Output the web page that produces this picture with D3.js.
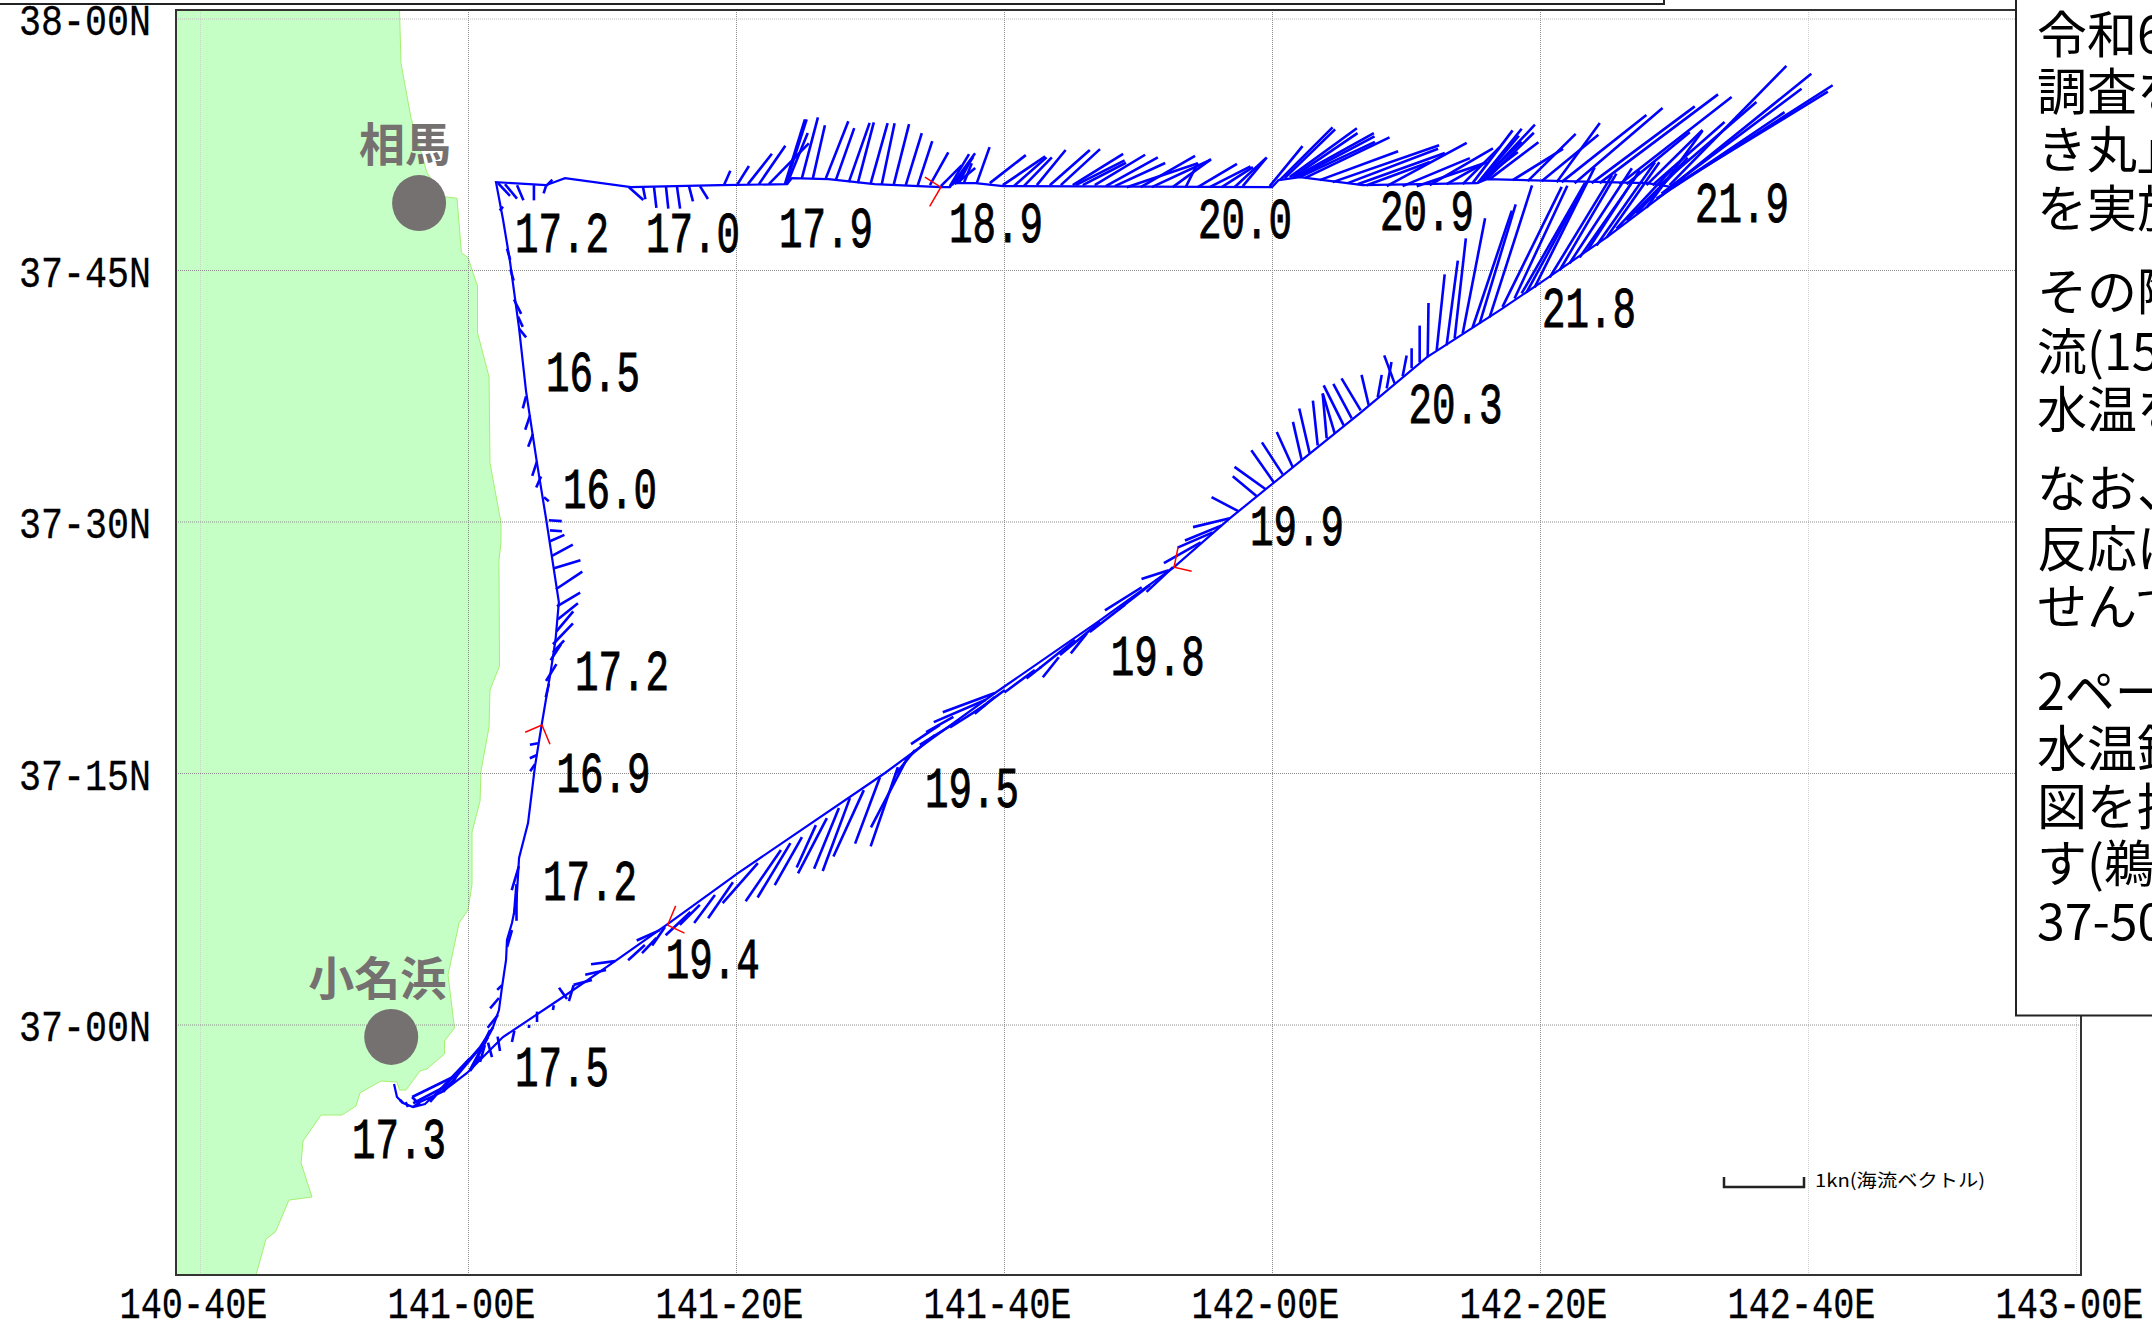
<!DOCTYPE html>
<html>
<head>
<meta charset="utf-8">
<script src="https://cdn.jsdelivr.net/npm/d3@7"></script>
<style>
    html, body { margin: 0; padding: 0; background: #fff; overflow: hidden; }
    svg { display: block; }
    .num { font-family: "Liberation Mono", monospace; fill: #000; }
    .jp { font-family: "Noto Sans CJK JP", sans-serif; fill: #000; }
</style>
</head>
<body>
<svg id="chart" width="2152" height="1323"></svg>
<script>
// all positions are minutes east of 141-00E and minutes north of 37-00N
// currents are [lon, lat, u, v] with u and v in knots

const lonTicks = [-20, 0, 20, 40, 60, 80, 100, 120];
const lonLabels = ["140-40E", "141-00E", "141-20E", "141-40E", "142-00E", "142-20E", "142-40E", "143-00E"];
const latTicks = [60, 45, 30, 15, 0];
const latLabels = ["38-00N", "37-45N", "37-30N", "37-15N", "37-00N"];

const coast = [
    [-5.11, 60.47], [-5.0, 57.33], [-4.25, 54.05], [-3.06, 50.8], [-1.75, 49.37], [-0.82, 49.28],
    [-0.49, 46.03], [0, 45.74], [0.71, 44.04], [0.71, 41.26], [1.57, 38.63], [1.64, 33.48],
    [2.46, 29.96], [2.46, 28.71], [2.31, 27.7], [2.35, 21.38], [1.64, 19.95], [1.57, 17.74],
    [0.97, 15.12], [0.9, 13.33], [0.3, 11.48], [0.3, 8.38], [0, 6.83], [-0.67, 6.05],
    [-1.49, 2.95], [-1.01, -0.21], [-1.75, -0.98], [-1.75, -1.76], [-3.06, -2.65], [-3.58, -2.77],
    [-4.63, -3.91], [-5.11, -3.91], [-5.3, -3.43], [-6.49, -3.37], [-8.06, -4.08], [-8.36, -4.86],
    [-9.4, -5.4], [-10.97, -5.4], [-12.31, -6.95], [-12.46, -8.26], [-11.64, -10.29], [-13.36, -10.47],
    [-14.37, -12.37], [-15.07, -12.79], [-15.82, -14.94], [-21.79, -14.94], [-21.79, 60.47]
];

const track = [
    [-5.52, -3.55], [-5.3, -4.32], [-4.85, -4.68], [-4.1, -4.92], [-3.21, -4.74], [-2.09, -3.91],
    [-0.6, -2.71], [0.9, -1.34], [1.87, -0.15], [2.31, 0.86], [2.54, 2.24], [2.84, 3.85],
    [2.91, 5.04], [3.28, 6.05], [3.62, 7.36], [3.81, 9.93], [4.48, 12.01], [5.0, 15.41],
    [5.52, 17.98], [6.19, 21.14], [6.53, 22.93], [6.78, 25.19], [5.82, 30.2], [5.15, 33.48],
    [4.33, 37.78], [3.81, 41.53], [3.13, 45.53], [2.61, 48.03], [2.09, 50.24], [5.82, 50.06],
    [7.24, 50.48], [12.16, 49.94], [18.81, 50.06], [23.81, 50.12], [24.18, 50.48], [26.9, 50.42],
    [30.34, 50.12], [35.3, 49.94], [35.97, 49.94], [36.16, 50.18], [37.87, 50.18], [39.93, 50.0],
    [60.0, 49.94], [60.49, 50.36], [62.09, 50.54], [66.79, 50.06], [75.3, 50.18], [76.04, 50.42],
    [87.99, 50.18], [89.93, 49.94], [85.0, 46.96], [80.0, 44.22], [77.01, 42.61], [71.57, 39.8],
    [66.57, 36.46], [61.57, 33.24], [56.87, 30.2], [52.69, 27.28], [46.87, 23.94], [39.33, 19.77],
    [33.13, 16.19], [31.12, 15.0], [20.15, 9.03], [15.0, 6.05], [10.9, 3.73], [7.09, 1.64],
    [2.61, -0.75], [-0.07, -2.89], [-1.94, -4.03], [-3.58, -4.62], [-4.1, -4.92]
];

const northLegCurrents = [
    [-1.94, -3.79, -0.36, -0.19], [-1.12, -3.13, -0.51, -0.25], [0.15, -2.0, -0.5, -0.53], [0.9, -1.4, -0.46, -0.55],
    [1.49, -0.75, -0.2, -0.38], [1.87, -0.15, -0.29, -0.54],
    [1.64, -0.33, -0.15, -0.31], [2.24, 0.57, -0.13, -0.16], [2.31, 1.58, -0.11, -0.13], [2.54, 2.35, -0.06, -0.06],
    [3.28, 5.63, -0.06, -0.21], [3.62, 8.37, -0.03, -0.38], [3.62, 8.14, 0, -0.41], [3.8, 9.45, -0.09, -0.3],
    [5.0, 15.53, -0.06, -0.09], [5.15, 16.07, -0.09, -0.04], [5.22, 16.78, -0.1, -0.02], [6.04, 20.32, -0.04, -0.17],
    [6.6, 21.49, -0.13, -0.21], [6.94, 22.68, -0.13, -0.2], [6.34, 22.2, 0.14, 0.15], [6.34, 22.68, 0.25, 0.26],
    [6.6, 23.45, 0.21, 0.25], [6.71, 24.17, 0.25, 0.2], [6.64, 24.94, 0.29, 0.17], [6.56, 25.96, 0.33, 0.22],
    [6.42, 27.21, 0.33, 0.1], [6.27, 27.95, 0.26, 0.14], [6.12, 28.82, 0.18, 0.08], [6.12, 29.47, 0.15, -0.01],
    [6.04, 30.07, 0.16, -0.01], [5.67, 31.44, 0.06, -0.05], [5.45, 32.69, -0.06, -0.14], [5.15, 33.58, -0.06, -0.18],
    [4.85, 35.22, -0.06, -0.16], [4.63, 36.33, -0.06, -0.18], [4.33, 37.46, -0.04, -0.15], [3.8, 41.51, 0.09, -0.11],
    [3.73, 42.23, 0.06, -0.13], [3.43, 43.24, 0.09, -0.18], [3.17, 45.03, 0.04, -0.14], [2.91, 46.28, 0.04, -0.14],
    [2.61, 48.78, -0.04, -0.05]
];

const eastLegCurrents = [
    [2.24, 50.18, 0.15, -0.16], [2.76, 50.12, 0.15, -0.18], [3.66, 50.06, 0.08, -0.19], [4.92, 50.06, 0, -0.19],
    [5.82, 50.0, -0.03, -0.09], [5.82, 50.0, 0.08, 0.08], [12.01, 49.94, 0.18, -0.16], [13.06, 49.94, 0.03, -0.15],
    [13.88, 49.94, 0.03, -0.26], [14.77, 50.0, 0.03, -0.28], [15.59, 50.0, 0.04, -0.28], [16.49, 50.0, 0.05, -0.19],
    [17.31, 50.0, 0.1, -0.16], [19.1, 50.06, 0.08, 0.18], [20.07, 50.06, 0.15, 0.24], [20.89, 50.12, 0.3, 0.38],
    [21.71, 50.12, 0.33, 0.48], [22.45, 50.12, 0.5, 0.51], [23.65, 50.12, 0.25, 0.81], [23.72, 50.12, 0.26, 0.81],
    [23.8, 50.12, 0.26, 0.64], [24.92, 50.48, 0.2, 0.76], [25.74, 50.48, 0.15, 0.66], [26.71, 50.48, 0.28, 0.71],
    [27.45, 50.36, 0.23, 0.65], [28.42, 50.24, 0.26, 0.74], [29.09, 50.18, 0.2, 0.76], [30.06, 50.18, 0.21, 0.75],
    [30.88, 50.12, 0.16, 0.76], [31.78, 50.12, 0.19, 0.75], [32.67, 50.06, 0.2, 0.65], [33.57, 50.06, 0.18, 0.55],
    [34.47, 50.06, 0.23, 0.41], [35.29, 50.0, 0.26, 0.26], [35.96, 50.0, 0.24, 0.4], [36.11, 50.06, 0.29, 0.4],
    [36.33, 50.12, 0.23, 0.34], [36.48, 50.18, 0.23, 0.19], [36.63, 50.18, 0.15, 0.29], [37.0, 50.18, 0.1, 0.25],
    [37.97, 50.18, 0.16, 0.45], [38.94, 50.18, 0.45, 0.35], [39.91, 50.06, 0.53, 0.36], [40.73, 50.0, 0.41, 0.36],
    [41.48, 50.0, 0.35, 0.36], [42.45, 50.06, 0.36, 0.44], [43.42, 50.06, 0.5, 0.44], [44.24, 50.06, 0.49, 0.45],
    [45.13, 50.06, 0.63, 0.39], [45.36, 50.06, 0.61, 0.31], [45.88, 50.06, 0.54, 0.28], [46.77, 50.06, 0.63, 0.38],
    [47.6, 50.0, 0.65, 0.36], [48.27, 50.0, 0.63, 0.29], [49.16, 49.94, 0.89, 0.3], [50.2, 49.94, 0.68, 0.39],
    [51.03, 49.94, 0.73, 0.34], [52.59, 49.94, 0.48, 0.35], [53.56, 49.94, 0.15, 0.3], [54.46, 49.94, 0.49, 0.29],
    [55.35, 49.94, 0.51, 0.26], [56.25, 49.94, 0.39, 0.25], [57.2, 49.94, 0.39, 0.36], [57.82, 50.0, 0.3, 0.36],
    [59.83, 50.0, 0.41, 0.5], [60.58, 50.36, 0.66, 0.66], [60.95, 50.48, 0.63, 0.61], [61.32, 50.54, 0.84, 0.61],
    [61.55, 50.54, 0.81, 0.55], [61.69, 50.54, 0.99, 0.55], [61.92, 50.54, 0.96, 0.51], [62.07, 50.54, 0.94, 0.44],
    [62.44, 50.48, 1.06, 0.51], [63.56, 50.36, 0.98, 0.36], [64.53, 50.24, 1.33, 0.46], [65.65, 50.18, 1.13, 0.43],
    [66.39, 50.12, 1.09, 0.39], [67.07, 50.06, 0.79, 0.29], [68.56, 50.0, 1.0, 0.54], [69.75, 50.0, 0.84, 0.35],
    [70.8, 50.0, 0.88, 0.3], [71.77, 50.06, 0.79, 0.46], [73.03, 50.12, 0.5, 0.28], [74.23, 50.12, 0.46, 0.46],
    [74.97, 50.18, 0.5, 0.66], [75.35, 50.18, 0.55, 0.68], [75.5, 50.24, 0.49, 0.58], [75.64, 50.36, 0.5, 0.48],
    [75.72, 50.42, 0.44, 0.34], [75.8, 50.42, 0.64, 0.68], [76.02, 50.42, 0.59, 0.58], [76.24, 50.42, 0.61, 0.46],
    [77.96, 50.36, 0.63, 0.39], [79.08, 50.3, 0.6, 0.59], [80.12, 50.3, 0.71, 0.58], [81.24, 50.24, 0.54, 0.74],
    [81.61, 50.24, 1.06, 0.84], [82.58, 50.18, 1.1, 0.94], [83.85, 50.18, 1.29, 0.96], [84.45, 50.18, 1.48, 1.11],
    [85.94, 50.12, 1.4, 1.09], [86.46, 50.12, 0.79, 0.65], [87.95, 50.06, 0.7, 0.69], [88.4, 50.06, 0.9, 0.79],
    [88.93, 50.06, 1.21, 1.04], [89.67, 50.06, 1.46, 1.49]
];

const returnLegCurrents = [
    [89.9, 49.91, 2.0, 1.28], [89.66, 49.86, 1.98, 1.21], [89.44, 49.74, 1.81, 1.46], [89.07, 49.56, 1.75, 1.31],
    [88.7, 49.26, 1.6, 1.08], [87.95, 48.72, 0.7, 0.96], [87.2, 48.36, 0.64, 0.7], [86.46, 47.95, 0.66, 0.66],
    [85.71, 47.47, 0.7, 0.75], [84.97, 46.94, 0.66, 0.94], [84.22, 46.46, 0.73, 1.04], [83.55, 46.17, 0.65, 1.0],
    [82.96, 45.75, 0.74, 1.06], [82.2, 45.39, 0.78, 1.19], [81.46, 44.97, 0.71, 1.21], [80.72, 44.55, 0.78, 1.28],
    [79.6, 43.96, 0.75, 1.5], [79.0, 43.67, 0.75, 1.38], [78.63, 43.6, 0.79, 1.38], [78.1, 43.3, 0.66, 1.41],
    [77.2, 42.8, 0.74, 1.5], [76.24, 42.17, 0.53, 1.65], [75.5, 41.81, 0.45, 1.49], [74.97, 41.57, 0.49, 1.46],
    [74.23, 41.21, 0.28, 1.44], [73.63, 40.92, 0.14, 1.25], [73.03, 40.5, 0.14, 1.06], [72.29, 40.21, 0.1, 0.95],
    [71.62, 39.79, 0.01, 0.68], [71.02, 39.49, 0, 0.46], [70.42, 39.14, 0, 0.25], [69.75, 38.66, 0.05, 0.26],
    [69.15, 38.24, -0.13, 0.35], [68.56, 37.94, 0.06, 0.33], [67.89, 37.41, 0.05, 0.28], [67.22, 36.93, -0.09, 0.38],
    [66.62, 36.63, -0.24, 0.4], [65.95, 36.15, -0.23, 0.43], [65.35, 35.73, -0.25, 0.5], [64.68, 35.25, -0.15, 0.5],
    [64.08, 34.96, -0.05, 0.56], [63.41, 34.54, -0.06, 0.56], [62.81, 34.07, -0.13, 0.56], [62.22, 33.65, -0.11, 0.48],
    [61.55, 33.24, -0.2, 0.44], [60.8, 32.81, -0.26, 0.4], [60.13, 32.34, -0.28, 0.4], [59.53, 31.92, -0.39, 0.28],
    [58.86, 31.5, -0.3, 0.25], [57.52, 30.6, -0.34, 0.18], [56.85, 30.19, -0.46, -0.11], [56.25, 29.77, -0.46, -0.19],
    [55.58, 29.35, -0.44, -0.19], [54.68, 28.76, -0.46, -0.26], [52.61, 27.28, -0.33, -0.31], [52.29, 27.09, -0.34, -0.11],
    [50.9, 26.22, -0.4, -0.31], [50.28, 26.08, -0.46, -0.29], [49.03, 25.03, -0.44, -0.34], [47.16, 24.0, -0.5, -0.41],
    [46.18, 23.33, -0.2, -0.25], [45.3, 22.93, -0.44, -0.35], [44.09, 21.9, -0.2, -0.25], [42.75, 21.31, -0.18, -0.14],
    [42.3, 21.14, -0.38, -0.28], [40.07, 19.95, -0.38, -0.28], [39.31, 19.53, -0.25, -0.21], [39.31, 19.77, -0.65, -0.24],
    [38.64, 19.37, -0.65, -0.28], [38.6, 19.05, -0.44, -0.28], [36.7, 18.16, -0.5, -0.31], [36.22, 18.35, -0.34, -0.19],
    [35.21, 17.87, -0.36, -0.24], [34.85, 17.26, -0.38, -0.31], [33.36, 16.37, -0.25, -0.31],
    [32.82, 15.95, -0.46, -0.88], [32.08, 15.35, -0.34, -0.99], [30.74, 14.75, -0.31, -0.83], [29.54, 13.98, -0.38, -0.83],
    [28.5, 13.5, -0.34, -0.91], [27.68, 12.91, -0.31, -0.76], [26.78, 12.31, -0.36, -0.69], [25.96, 11.89, -0.24, -0.53],
    [24.92, 11.18, -0.34, -0.6], [24.06, 10.82, -0.41, -0.68], [23.35, 10.41, -0.44, -0.64], [21.63, 9.63, -0.44, -0.5],
    [19.77, 8.49, -0.31, -0.45], [18.43, 7.72, -0.26, -0.35], [17.3, 7.13, -0.25, -0.25], [16.6, 6.71, -0.31, -0.29],
    [14.7, 5.81, -0.16, -0.23], [14.32, 5.63, -0.29, -0.13],
    [14.06, 5.16, -0.18, -0.19], [13.2, 4.74, -0.21, -0.19], [10.97, 3.78, -0.3, -0.04], [10.3, 3.25, -0.26, -0.06],
    [9.25, 2.65, -0.23, -0.06], [7.53, 1.4, 0.06, 0.2], [7.39, 1.52, -0.1, 0.14], [6.34, 0.86, 0.01, 0.06],
    [5.15, 0.15, 0, 0.13], [4.55, -0.21, 0, 0.04], [3.28, -1.04, 0.03, 0.14], [2.39, -1.58, -0.03, 0.18],
    [1.79, -1.94, -0.05, 0.18], [0.9, -2.23, 0.06, 0.21], [0.15, -2.77, 0.13, 0.18], [-1.12, -3.49, 0.05, 0.1],
    [-1.94, -4.02, 0.1, 0.15], [-2.83, -4.62, 0.13, 0.15], [-3.58, -4.8, -0.1, 0.1], [-4.48, -4.92, -0.03, 0.06],
    [-4.85, -4.68, -0.04, 0.04]
];

// red marks, one point with two short strokes
const redMarks = [
    [35.29, 49.94, -0.2, 0.125, -0.14, -0.24],
    [5.52, 17.86, -0.21, -0.09, 0.1, -0.24],
    [52.69, 27.27, 0.05, 0.25, 0.22, -0.05],
    [14.9, 5.93, 0.1, 0.24, 0.21, -0.1]
];

const tempLabels = ["17.2", "17.0", "17.9", "18.9", "20.0", "20.9", "21.9", "21.8", "20.3", "19.9", "19.8", "19.5", "19.4", "17.5", "17.3", "17.2", "16.9", "17.2", "16.0", "16.5"];
const tempLon = [3.51, 13.28, 23.21, 35.9, 54.48, 68.06, 91.57, 80.15, 70.19, 58.36, 47.96, 34.1, 14.75, 3.51, -8.66, 5.6, 6.6, 7.99, 7.09, 5.82];
const tempLat = [46.07, 46.07, 46.36, 46.66, 46.9, 47.38, 47.85, 41.59, 35.87, 28.59, 20.84, 12.97, 2.77, -3.67, -7.96, 7.42, 13.89, 19.95, 30.8, 37.81];

const portNames = ["相馬", "小名浜"];
const portLon = [-3.65, -5.73];
const portLat = [48.99, -0.74];

const panelLines = ["令和6年", "調査を", "き丸」", "を実施", "その際", "流(15", "水温を", "なお、", "反応は", "せんで", "2ページ", "水温鉛", "図を掲", "す(鵜", "37-50"];
const panelCenters = [33, 90, 148, 207, 290, 350, 408, 487, 547, 605, 690, 747, 805, 862, 920];

const margin = { top: 10, right: 71, bottom: 48, left: 176 };
const width = 2152 - margin.left - margin.right;
const height = 1323 - margin.top - margin.bottom;

const x = d3.scaleLinear().domain([-20, 100]).range([200 - margin.left, 1808 - margin.left]);
const y = d3.scaleLinear().domain([0, 60]).range([1024.5 - margin.top, 18.5 - margin.top]);
const knots = d3.scaleLinear().domain([0, 1]).range([0, 80]);

const svg = d3.select("#chart");

// box edge left over at the very top of the page
svg.append("rect")
    .attr("x", -5).attr("y", -5).attr("width", 1669).attr("height", 9)
    .attr("fill", "#fff").attr("stroke", "#222").attr("stroke-width", 2);

const g = svg.append("g").attr("transform", `translate(${margin.left},${margin.top})`);

const lineGeo = d3.line().x(d => x(d[0])).y(d => y(d[1]));

g.append("path")
    .attr("d", lineGeo(coast) + "Z")
    .attr("fill", "#c6ffc6")
    .attr("stroke", "#a4f070")
    .attr("stroke-width", 1);

const xAxis = g.append("g")
    .attr("transform", `translate(0,${height})`)
    .call(d3.axisBottom(x).tickValues(lonTicks).tickFormat((d, i) => lonLabels[i]).tickSize(-height).tickPadding(0));

const yAxis = g.append("g")
    .call(d3.axisLeft(y).tickValues(latTicks).tickFormat((d, i) => latLabels[i]).tickSize(-width).tickPadding(0));

xAxis.select(".domain").remove();
yAxis.select(".domain").remove();

g.selectAll(".tick line")
    .attr("stroke", "#8c8c8c")
    .attr("stroke-width", 1)
    .attr("stroke-dasharray", "1 1");

xAxis.selectAll(".tick line")
    .attr("stroke", d => (d === -20 || d >= 100) ? "#d0d0d0" : "#8c8c8c");
yAxis.selectAll(".tick line")
    .attr("stroke", d => d === 60 ? "#bdbdbd" : "#8c8c8c");

xAxis.selectAll(".tick text")
    .attr("class", "num")
    .attr("dy", null)
    .attr("y", 43)
    .attr("x", -81)
    .attr("text-anchor", "start")
    .attr("font-size", 44)
    .attr("stroke", "#000")
    .attr("stroke-width", 0.3)
    .attr("textLength", 148)
    .attr("lengthAdjust", "spacingAndGlyphs");

yAxis.selectAll(".tick text")
    .attr("class", "num")
    .attr("dy", null)
    .attr("y", 16)
    .attr("x", -157)
    .attr("text-anchor", "start")
    .attr("font-size", 44)
    .attr("stroke", "#000")
    .attr("stroke-width", 0.3)
    .attr("textLength", 132)
    .attr("lengthAdjust", "spacingAndGlyphs");

// port marks
g.selectAll(".port")
    .data(portNames)
    .enter().append("ellipse")
    .attr("class", "port")
    .attr("cx", (d, i) => x(portLon[i]))
    .attr("cy", (d, i) => y(portLat[i]))
    .attr("rx", 27)
    .attr("ry", 28)
    .attr("fill", "#767171");

g.selectAll(".portName")
    .data(portNames)
    .enter().append("text")
    .attr("class", "jp portName")
    .attr("x", (d, i) => x(portLon[i]) - 14)
    .attr("y", (d, i) => y(portLat[i]) - 42)
    .attr("text-anchor", "middle")
    .attr("font-size", 46)
    .attr("font-weight", 700)
    .style("fill", "#767171")
    .text(d => d);

g.append("path")
    .attr("d", lineGeo(track))
    .attr("fill", "none")
    .attr("stroke", "#0000ff")
    .attr("stroke-width", 2.2);

const currents = northLegCurrents.concat(eastLegCurrents, returnLegCurrents);

g.selectAll(".current")
    .data(currents)
    .enter().append("line")
    .attr("class", "current")
    .attr("x1", d => x(d[0]))
    .attr("y1", d => y(d[1]))
    .attr("x2", d => x(d[0]) + knots(d[2]))
    .attr("y2", d => y(d[1]) - knots(d[3]))
    .attr("stroke", "#0000ff")
    .attr("stroke-width", 2.6);

g.selectAll(".redMark")
    .data(redMarks)
    .enter().append("path")
    .attr("class", "redMark")
    .attr("d", d => `M${x(d[0]) + knots(d[2])},${y(d[1]) - knots(d[3])}L${x(d[0])},${y(d[1])}L${x(d[0]) + knots(d[4])},${y(d[1]) - knots(d[5])}`)
    .attr("fill", "none")
    .attr("stroke", "#ff0000")
    .attr("stroke-width", 1.5);

g.selectAll(".temp")
    .data(tempLabels)
    .enter().append("text")
    .attr("class", "num temp")
    .attr("x", (d, i) => x(tempLon[i]))
    .attr("y", (d, i) => y(tempLat[i]))
    .attr("font-size", 58)
    .attr("stroke", "#000")
    .attr("stroke-width", 1)
    .attr("textLength", 94)
    .attr("lengthAdjust", "spacingAndGlyphs")
    .text(d => d);

// frame
g.append("rect")
    .attr("width", width)
    .attr("height", height)
    .attr("fill", "none")
    .attr("stroke", "#333")
    .attr("stroke-width", 2);

// 1kn scale bar
const barX = 1724 - margin.left;
const barY = 1187 - margin.top;
g.append("path")
    .attr("d", `M${barX},${barY - 10}V${barY}H${barX + knots(1)}V${barY - 10}`)
    .attr("fill", "none")
    .attr("stroke", "#222")
    .attr("stroke-width", 2.5);

g.append("text")
    .attr("class", "jp")
    .attr("x", barX + 91)
    .attr("y", barY)
    .attr("font-size", 18)
    .attr("textLength", 170)
    .attr("lengthAdjust", "spacingAndGlyphs")
    .text("1kn(海流ベクトル)");

// text panel, runs off the right edge of the page
svg.append("rect")
    .attr("x", 2016).attr("y", -5).attr("width", 160).attr("height", 1020.5)
    .attr("fill", "#fff").attr("stroke", "#222").attr("stroke-width", 2);

svg.selectAll(".panelLine")
    .data(panelLines)
    .enter().append("text")
    .attr("class", "jp panelLine")
    .attr("x", 2037)
    .attr("y", (d, i) => panelCenters[i] + 20)
    .attr("font-size", 50)
    .text(d => d);
</script>
</body>
</html>
